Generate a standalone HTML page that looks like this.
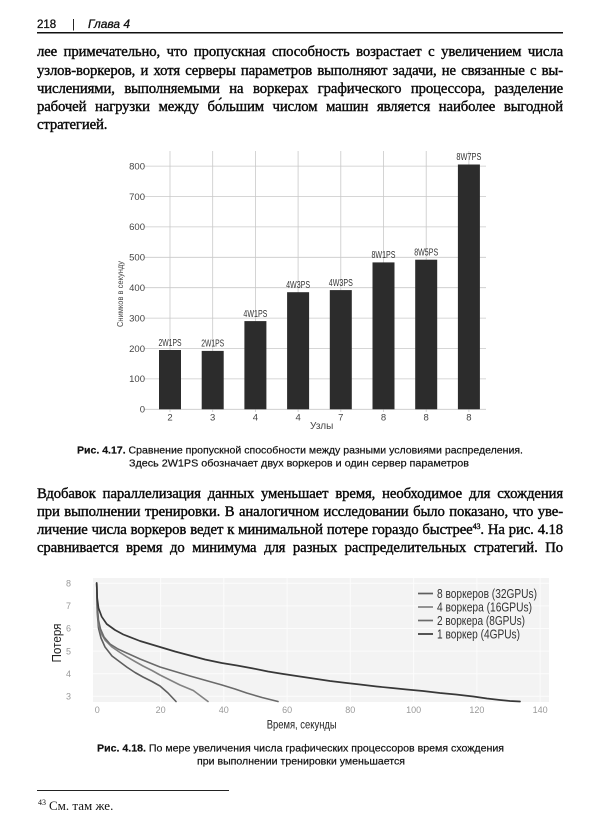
<!DOCTYPE html>
<html>
<head>
<meta charset="utf-8">
<style>
html,body{margin:0;padding:0;background:#fff;}
body{width:600px;height:828px;position:relative;overflow:hidden;}
.l{position:absolute;left:37px;width:526px;font-family:"Liberation Serif","Noto Serif CJK SC",serif;font-size:14.7px;letter-spacing:-0.1px;line-height:18.1px;color:#0a0a0a;-webkit-text-stroke:0.4px #0a0a0a;text-align:justify;text-align-last:justify;}
.last{text-align-last:left;}
svg{position:absolute;left:0;top:0;}
sup{font-size:8px;line-height:0;vertical-align:5px;}
</style>
</head>
<body>

<div class="l" style="top:43.4px">лее примечательно, что пропускная способность возрастает с увеличением числа</div>
<div class="l" style="top:61.5px">узлов-воркеров, и хотя серверы параметров выполняют задачи, не связанные с вы-</div>
<div class="l" style="top:79.7px">числениями, выполняемыми на воркерах графического процессора, разделение</div>
<div class="l" style="top:97.8px">рабочей нагрузки между бо́льшим числом машин является наиболее выгодной</div>
<div class="l last" style="top:116px">стратегией.</div>

<div class="l" style="top:485.1px">Вдобавок параллелизация данных уменьшает время, необходимое для схождения</div>
<div class="l" style="top:503.2px">при выполнении тренировки. В аналогичном исследовании было показано, что уве-</div>
<div class="l" style="top:521.2px">личение числа воркеров ведет к минимальной потере гораздо быстрее<sup>43</sup>. На рис. 4.18</div>
<div class="l" style="top:539.3px">сравнивается время до минимума для разных распределительных стратегий. По</div>

<svg width="600" height="828" viewBox="0 0 600 828" xmlns="http://www.w3.org/2000/svg" font-family="Liberation Sans, sans-serif">
  <!-- header -->
  <text x="37" y="28" font-size="11.5" fill="#111" stroke="#111" stroke-width="0.3">218</text>
  <text x="72" y="28" font-size="11.5" fill="#111">|</text>
  <text x="88" y="28" font-size="11.5" font-style="italic" fill="#111" stroke="#111" stroke-width="0.3" textLength="42" lengthAdjust="spacingAndGlyphs">Глава 4</text>
  <line x1="37" y1="32.8" x2="563" y2="32.8" stroke="#111" stroke-width="1.5"/>

  <!-- BAR CHART -->
  <g stroke="#c9c9c9" stroke-width="0.8">
    <line x1="144" y1="409.3" x2="486" y2="409.3"/>
    <line x1="144" y1="378.9" x2="486" y2="378.9"/>
    <line x1="144" y1="348.5" x2="486" y2="348.5"/>
    <line x1="144" y1="318.1" x2="486" y2="318.1"/>
    <line x1="144" y1="287.7" x2="486" y2="287.7"/>
    <line x1="144" y1="257.3" x2="486" y2="257.3"/>
    <line x1="144" y1="226.9" x2="486" y2="226.9"/>
    <line x1="144" y1="196.5" x2="486" y2="196.5"/>
    <line x1="144" y1="166.1" x2="486" y2="166.1"/>
    <line x1="170" y1="151" x2="170" y2="412"/>
    <line x1="212.7" y1="151" x2="212.7" y2="412"/>
    <line x1="255.4" y1="151" x2="255.4" y2="412"/>
    <line x1="298.1" y1="151" x2="298.1" y2="412"/>
    <line x1="340.8" y1="151" x2="340.8" y2="412"/>
    <line x1="383.5" y1="151" x2="383.5" y2="412"/>
    <line x1="426.2" y1="151" x2="426.2" y2="412"/>
    <line x1="468.9" y1="151" x2="468.9" y2="412"/>
  </g>
  <g fill="#2c2c2c">
    <rect x="159" y="350" width="22" height="59.3"/>
    <rect x="201.7" y="350.9" width="22" height="58.4"/>
    <rect x="244.4" y="321.1" width="22" height="88.2"/>
    <rect x="287.1" y="292.2" width="22" height="117.1"/>
    <rect x="329.8" y="290.1" width="22" height="119.2"/>
    <rect x="372.5" y="262.4" width="22" height="146.9"/>
    <rect x="415.2" y="259.7" width="22" height="149.6"/>
    <rect x="457.9" y="164.5" width="22" height="244.8"/>
  </g>
  <g font-size="9.8" fill="#333" text-anchor="middle">
    <text x="170" y="346" textLength="23" lengthAdjust="spacingAndGlyphs">2W1PS</text>
    <text x="212.7" y="346.5" textLength="23" lengthAdjust="spacingAndGlyphs">2W1PS</text>
    <text x="255.4" y="317" textLength="24" lengthAdjust="spacingAndGlyphs">4W1PS</text>
    <text x="298.1" y="288" textLength="24" lengthAdjust="spacingAndGlyphs">4W3PS</text>
    <text x="340.8" y="286" textLength="24" lengthAdjust="spacingAndGlyphs">4W3PS</text>
    <text x="383.5" y="258" textLength="24" lengthAdjust="spacingAndGlyphs">8W1PS</text>
    <text x="426.2" y="255.5" textLength="24" lengthAdjust="spacingAndGlyphs">8W5PS</text>
    <text x="468.9" y="160" textLength="25" lengthAdjust="spacingAndGlyphs">8W7PS</text>
  </g>
  <g font-size="9.5" fill="#444" text-anchor="end">
    <text x="145" y="412.6">0</text>
    <text x="145" y="382.2">100</text>
    <text x="145" y="351.8">200</text>
    <text x="145" y="321.4">300</text>
    <text x="145" y="291">400</text>
    <text x="145" y="260.6">500</text>
    <text x="145" y="230.2">600</text>
    <text x="145" y="199.8">700</text>
    <text x="145" y="169.4">800</text>
  </g>
  <g font-size="9.5" fill="#444" text-anchor="middle">
    <text x="170" y="420.3">2</text>
    <text x="212.7" y="420.3">3</text>
    <text x="255.4" y="420.3">4</text>
    <text x="298.1" y="420.3">4</text>
    <text x="340.8" y="420.3">7</text>
    <text x="383.5" y="420.3">8</text>
    <text x="426.2" y="420.3">8</text>
    <text x="468.9" y="420.3">8</text>
  </g>
  <text x="321.7" y="429" font-size="10" fill="#444" text-anchor="middle">Узлы</text>
  <text transform="translate(123,294) rotate(-90)" font-size="7.8" fill="#444" text-anchor="middle" textLength="66" lengthAdjust="spacingAndGlyphs">Снимков в секунду</text>

  <!-- caption 4.17 -->
  <text x="77" y="453.3" font-size="10.5" fill="#111" stroke="#111" stroke-width="0.2" textLength="446" lengthAdjust="spacingAndGlyphs"><tspan font-weight="bold">Рис. 4.17.</tspan> Сравнение пропускной способности между разными условиями распределения.</text>
  <text x="129" y="466.3" font-size="10.5" fill="#111" stroke="#111" stroke-width="0.2" textLength="340" lengthAdjust="spacingAndGlyphs">Здесь 2W1PS обозначает двух воркеров и один сервер параметров</text>

  <!-- LINE CHART -->
  <rect x="93" y="578" width="456" height="124" fill="#f3f3f3"/>
  <g stroke="#fcfcfc" stroke-width="1">
    <line x1="93" y1="583.3" x2="549" y2="583.3"/>
    <line x1="93" y1="605.9" x2="549" y2="605.9"/>
    <line x1="93" y1="628.5" x2="549" y2="628.5"/>
    <line x1="93" y1="651.1" x2="549" y2="651.1"/>
    <line x1="93" y1="673.7" x2="549" y2="673.7"/>
    <line x1="93" y1="696.3" x2="549" y2="696.3"/>
    <line x1="160.6" y1="578" x2="160.6" y2="702"/>
    <line x1="223.8" y1="578" x2="223.8" y2="702"/>
    <line x1="287.1" y1="578" x2="287.1" y2="702"/>
    <line x1="350.3" y1="578" x2="350.3" y2="702"/>
    <line x1="413.6" y1="578" x2="413.6" y2="702"/>
    <line x1="476.9" y1="578" x2="476.9" y2="702"/>
    <line x1="540.1" y1="578" x2="540.1" y2="702"/>
  </g>
  <g fill="none" stroke-linejoin="round" stroke-linecap="round">
    <polyline stroke="#5e5e5e" stroke-width="1.6" points="96.7,583 97.2,612 98.5,628 101,638 105,647 112,656 120,662 126.7,667 135,672.5 143,677 152,681.5 160,686 168,693 176,701.5"/>
    <polyline stroke="#828282" stroke-width="1.6" points="96.7,583 97.2,608 98.5,624 101,633 105,640 112,647 120,652.5 126.7,656.7 135,661.5 143,666 152,670.5 160,675 170,680 180,685 193.3,690.5 200,695.5 208,701.5"/>
    <polyline stroke="#6a6a6a" stroke-width="1.6" points="96.7,583 97.2,605 98.5,620 100.5,629 104,637 110,644 118,649 126.7,653 140,659 160,667 175,671.5 190,676 206,680.5 222,685 235,689 246.7,693 262,697.5 278,701.5"/>
    <polyline stroke="#383838" stroke-width="1.7" points="96.7,583 97.2,598 98.5,608 101.7,616.7 106.7,624 115,630 123.3,634.5 140,641 160,647 175,651.5 190,655.5 205,659.5 221.7,663 237,665.5 253.3,668.5 268,671.5 283.3,674 300,676.5 316.7,679 330,681 346.7,683 360,684.5 376.7,686.5 392,688 406.7,689.5 423,691 440,693 456,694.5 473.3,696.5 487,698.5 500,700 510,701 520,701.5"/>
  </g>
  <g font-size="9" fill="#999" text-anchor="end">
    <text x="71" y="586.5">8</text>
    <text x="71" y="609.1">7</text>
    <text x="71" y="631.7">6</text>
    <text x="71" y="654.3">5</text>
    <text x="71" y="676.9">4</text>
    <text x="71" y="699.5">3</text>
  </g>
  <g font-size="9" fill="#999" text-anchor="middle">
    <text x="97.3" y="713">0</text>
    <text x="160.6" y="713">20</text>
    <text x="223.8" y="713">40</text>
    <text x="287.1" y="713">60</text>
    <text x="350.3" y="713">80</text>
    <text x="413.6" y="713">100</text>
    <text x="476.9" y="713">120</text>
    <text x="540.1" y="713">140</text>
  </g>
  <text x="266.7" y="728.3" font-size="11.8" fill="#222" textLength="70" lengthAdjust="spacingAndGlyphs">Время, секунды</text>
  <text transform="translate(61,643) rotate(-90)" font-size="12.5" fill="#222" text-anchor="middle" textLength="39" lengthAdjust="spacingAndGlyphs">Потеря</text>

  <!-- legend -->
  <g stroke-width="1.7">
    <line x1="418" y1="593.5" x2="433" y2="593.5" stroke="#5e5e5e"/>
    <line x1="418" y1="607" x2="433" y2="607" stroke="#828282"/>
    <line x1="418" y1="620.5" x2="433" y2="620.5" stroke="#6a6a6a"/>
    <line x1="418" y1="634" x2="433" y2="634" stroke="#383838"/>
  </g>
  <g font-size="12.5" fill="#333">
    <text x="437" y="598" textLength="100" lengthAdjust="spacingAndGlyphs">8 воркеров (32GPUs)</text>
    <text x="437" y="611.5" textLength="95" lengthAdjust="spacingAndGlyphs">4 воркера (16GPUs)</text>
    <text x="437" y="625" textLength="88" lengthAdjust="spacingAndGlyphs">2 воркера (8GPUs)</text>
    <text x="437" y="638.5" textLength="83" lengthAdjust="spacingAndGlyphs">1 воркер (4GPUs)</text>
  </g>

  <!-- caption 4.18 -->
  <text x="97" y="751.3" font-size="10.5" fill="#111" stroke="#111" stroke-width="0.2" textLength="407" lengthAdjust="spacingAndGlyphs"><tspan font-weight="bold">Рис. 4.18.</tspan> По мере увеличения числа графических процессоров время схождения</text>
  <text x="197" y="764.3" font-size="10.5" fill="#111" stroke="#111" stroke-width="0.2" textLength="208" lengthAdjust="spacingAndGlyphs">при выполнении тренировки уменьшается</text>

  <!-- footnote -->
  <line x1="37" y1="790.5" x2="229" y2="790.5" stroke="#222" stroke-width="1"/>
  <text x="38" y="805" font-family="Liberation Serif, serif" font-size="8" fill="#111">43</text>
  <text x="49" y="810" font-family="Liberation Serif, serif" font-size="13" fill="#111">См. там же.</text>
</svg>

</body>
</html>
